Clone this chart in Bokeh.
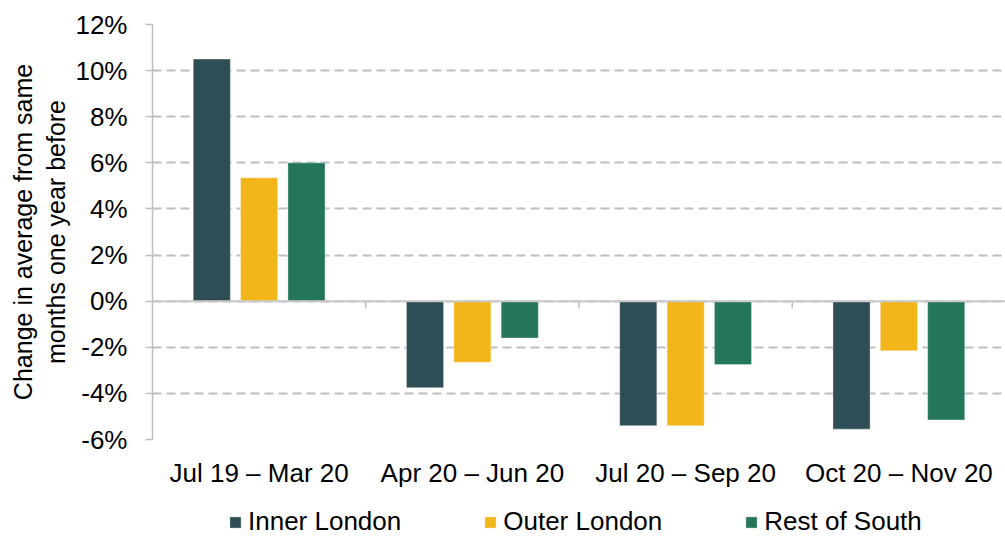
from bokeh.plotting import figure
from bokeh.layouts import column
from bokeh.models import (ColumnDataSource, FactorRange, Range1d, FixedTicker,
                          PrintfTickFormatter, Legend, LegendItem, Span)
from bokeh.transform import dodge
from bokeh.embed import file_html
from bokeh.resources import INLINE

categories = ["Jul 19 \u2013 Mar 20", "Apr 20 \u2013 Jun 20", "Jul 20 \u2013 Sep 20", "Oct 20 \u2013 Nov 20"]
series_names = ["Inner London", "Outer London", "Rest of South"]
inner_london = [10.5, -3.75, -5.4, -5.55]
outer_london = [5.35, -2.65, -5.4, -2.15]
rest_of_south = [6.0, -1.6, -2.75, -5.15]
y_ticks = [-6, -4, -2, 0, 2, 4, 6, 8, 10, 12]
y_title = "Change in average from same\nmonths one year before"

colors = ["#2F4D54", "#F2B61A", "#237657"]
FONT = "Liberation Sans"

src = ColumnDataSource(dict(cat=categories, inner=inner_london,
                            outer=outer_london, rest=rest_of_south))

p = figure(width=1005, height=500, output_backend="svg", toolbar_location=None,
           x_range=FactorRange(*categories, range_padding=0),
           y_range=Range1d(y_ticks[0], y_ticks[-1]),
           min_border_left=152, min_border_right=0, min_border_top=24,
           min_border_bottom=61)
p.outline_line_color = None
p.background_fill_color = "white"
p.border_fill_color = "white"

offsets = [-0.222, 0.0, 0.222]
fields = ["inner", "outer", "rest"]
for f, off, c in zip(fields, offsets, colors):
    p.vbar(x=dodge("cat", off, range=p.x_range), top=f, bottom=0, width=0.174,
           source=src, fill_color=c, line_color="white", line_alpha=0.35,
           line_width=1)

# grid
p.xgrid.grid_line_color = None
p.ygrid.ticker = FixedTicker(ticks=y_ticks)
p.ygrid.grid_line_color = "#BFBFBF"
p.ygrid.grid_line_width = 2
p.ygrid.grid_line_dash = "9 5"

# zero line
p.add_layout(Span(location=0, dimension="width", line_color="#C8C8C8", line_width=2))

# category boundary ticks on zero line
n = len(categories)
p.segment(x0=list(range(1, n)), x1=list(range(1, n)), y0=[0] * (n - 1),
          y1=[-0.32] * (n - 1), line_color="#BFBFBF", line_width=1.5)

# y axis
ya = p.yaxis[0]
ya.ticker = FixedTicker(ticks=y_ticks)
ya.formatter = PrintfTickFormatter(format="%d%%")
ya.axis_line_color = "#BFBFBF"
ya.axis_line_width = 1.5
ya.major_tick_line_color = "#BFBFBF"
ya.major_tick_line_width = 1.5
ya.major_tick_out = 7
ya.major_tick_in = 0
ya.minor_tick_line_color = None
ya.major_label_standoff = 18
ya.major_label_text_font = FONT
ya.major_label_text_font_size = "26px"
ya.major_label_text_color = "#000000"
ya.axis_label = y_title
ya.axis_label_text_font = FONT
ya.axis_label_text_font_size = "25px"
ya.axis_label_text_font_style = "normal"
ya.axis_label_text_color = "#000000"
ya.axis_label_standoff = 2

# x axis
xa = p.xaxis[0]
xa.axis_line_color = None
xa.major_tick_line_color = None
xa.minor_tick_line_color = None
xa.major_label_standoff = 12
xa.major_label_text_font = FONT
xa.major_label_text_font_size = "26px"
xa.major_label_text_color = "#000000"

# legend strip (separate figure below the chart; its bars lie outside its view)
leg = figure(width=1005, height=37, output_backend="svg", toolbar_location=None,
             x_range=FactorRange(*categories), y_range=Range1d(1000, 1001),
             min_border=0, x_axis_location=None, y_axis_location=None)
leg.outline_line_color = None
leg.grid.visible = False
items = []
for f, c, name in zip(fields, colors, series_names):
    r = leg.vbar(x="cat", top=f, bottom=0, width=0.175, source=src,
                 fill_color=c, line_color="white", line_alpha=0.35, line_width=1)
    items.append(LegendItem(label=name, renderers=[r]))

legend = Legend(items=items, orientation="horizontal", location=(76, 0),
                label_text_font=FONT, label_text_font_size="26px",
                label_text_color="#000000", glyph_width=14, glyph_height=14,
                label_standoff=6, spacing=82, padding=0, margin=0,
                border_line_color=None, background_fill_alpha=0)
leg.add_layout(legend, "center")

layout = column(p, leg, spacing=0)
open("out.html", "w").write(file_html(layout, INLINE))
